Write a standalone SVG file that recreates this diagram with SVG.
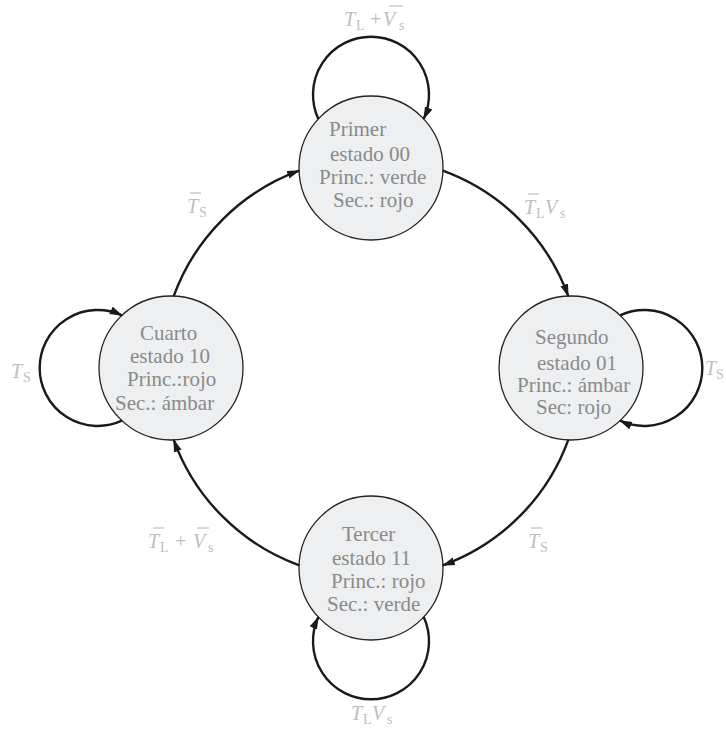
<svg xmlns="http://www.w3.org/2000/svg" width="726" height="731" viewBox="0 0 726 731">
<defs>
<marker id="arr" markerUnits="userSpaceOnUse" markerWidth="16" markerHeight="10" refX="12" refY="4" orient="auto">
<path d="M0,0 L13,4 L0,8 Z" fill="#1a1a1a"/>
</marker>
</defs>
<style>
.st{fill:#eeeff1;stroke:#222;stroke-width:1.3}
.tx{font-family:"Liberation Serif","Times New Roman",serif;font-size:21px;fill:#8a8a8a}
.cn{fill:none;stroke:#1a1a1a;stroke-width:2.4;marker-end:url(#arr)}
.lb{font-family:"Liberation Serif","Times New Roman",serif;font-size:20px;fill:#bebebe;font-style:italic}
.sb{font-style:normal;font-size:14px}
.pl{font-style:normal}
.ov{stroke:#bebebe;stroke-width:1.2}
</style>
<g id="state-00">
<circle class="st" cx="371" cy="168" r="72"/>
<text class="tx"><tspan x="329" y="136">Primer</tspan><tspan x="330" y="161">estado 00</tspan><tspan x="319" y="184">Princ.: verde</tspan><tspan x="333" y="207">Sec.: rojo</tspan></text>
</g>
<g id="state-01">
<circle class="st" cx="571" cy="368" r="72"/>
<text class="tx"><tspan x="535" y="344">Segundo</tspan><tspan x="537" y="370">estado 01</tspan><tspan x="517" y="392">Princ.: ámbar</tspan><tspan x="536" y="414">Sec: rojo</tspan></text>
</g>
<g id="state-11">
<circle class="st" cx="371" cy="568" r="72"/>
<text class="tx"><tspan x="342" y="541">Tercer</tspan><tspan x="332" y="565">estado 11</tspan><tspan x="331" y="588">Princ.: rojo</tspan><tspan x="327" y="611">Sec.: verde</tspan></text>
</g>
<g id="state-10">
<circle class="st" cx="171" cy="368" r="72"/>
<text class="tx"><tspan x="140" y="340">Cuarto</tspan><tspan x="130" y="363">estado 10</tspan><tspan x="127" y="386">Princ.:rojo</tspan><tspan x="115" y="410">Sec.: ámbar</tspan></text>
</g>
<g id="connectors">
<path class="cn" d="M442.8,170.7 A210,210 0 0 1 568.3,296.2"/>
<path class="cn" d="M568.3,439.8 A210,210 0 0 1 442.8,565.3"/>
<path class="cn" d="M299.2,565.3 A210,210 0 0 1 173.7,439.8"/>
<path class="cn" d="M173.7,296.2 A210,210 0 0 1 299.2,170.7"/>
<path class="cn" d="M318.3,118.9 A58,58 0 1 1 423.7,118.9"/>
<path class="cn" d="M620.1,315.3 A58,58 0 1 1 620.1,420.7"/>
<path class="cn" d="M423.7,617.1 A58,58 0 1 1 318.3,617.1"/>
<path class="cn" d="M121.9,420.7 A58,58 0 1 1 121.9,315.3"/>
</g>
<g id="labels">
<text class="lb"><tspan x="344" y="26">T</tspan><tspan class="sb" x="356" y="30">L</tspan><tspan class="pl" x="370" y="26">+</tspan><tspan x="383" y="26">V</tspan><tspan class="sb" x="399" y="30">s</tspan></text>
<line class="ov" x1="389" y1="6" x2="403" y2="6"/>
<text class="lb"><tspan x="524" y="214">T</tspan><tspan class="sb" x="536" y="218">L</tspan><tspan x="545" y="214">V</tspan><tspan class="sb" x="560" y="218">s</tspan></text>
<line class="ov" x1="528" y1="194" x2="539" y2="194"/>
<text class="lb"><tspan x="705" y="375">T</tspan><tspan class="sb" x="716" y="379">S</tspan></text>
<text class="lb"><tspan x="528" y="548">T</tspan><tspan class="sb" x="540" y="552">S</tspan></text>
<line class="ov" x1="531" y1="528" x2="542" y2="528"/>
<text class="lb"><tspan x="351" y="720">T</tspan><tspan class="sb" x="363" y="724">L</tspan><tspan x="372" y="720">V</tspan><tspan class="sb" x="387" y="724">s</tspan></text>
<text class="lb"><tspan x="148" y="548">T</tspan><tspan class="sb" x="160" y="552">L</tspan><tspan class="pl" x="175" y="548">+</tspan><tspan x="193" y="548">V</tspan><tspan class="sb" x="208" y="552">s</tspan></text>
<line class="ov" x1="153" y1="528" x2="164" y2="528"/>
<line class="ov" x1="197" y1="528" x2="209" y2="528"/>
<text class="lb"><tspan x="11" y="378">T</tspan><tspan class="sb" x="23" y="382">S</tspan></text>
<text class="lb"><tspan x="187" y="213">T</tspan><tspan class="sb" x="199" y="217">S</tspan></text>
<line class="ov" x1="190" y1="193" x2="201" y2="193"/>
</g>
</svg>
